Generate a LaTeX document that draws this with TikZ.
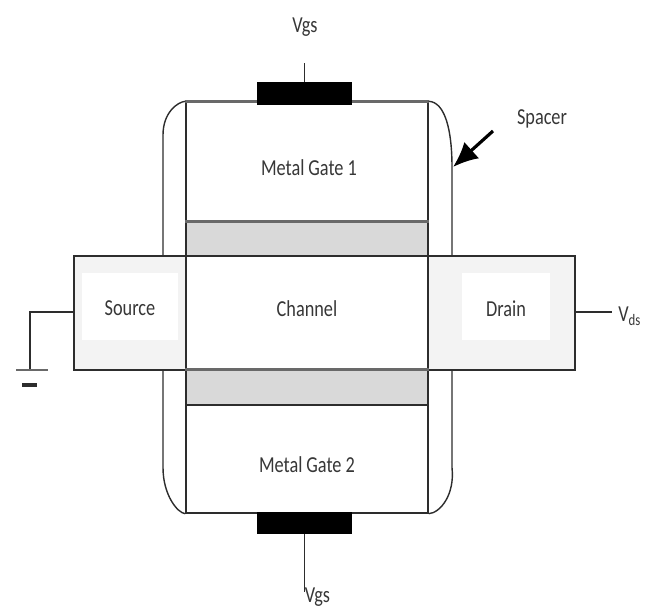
\documentclass[tikz,border=0pt]{standalone}
\usepackage{fontspec}
\setsansfont[FakeStretch=0.8]{Carlito}
\usepackage{xcolor}
\usetikzlibrary{arrows.meta}
\definecolor{spacergray}{RGB}{217, 217, 217}
\definecolor{contactgray}{RGB}{243, 243, 243}
\definecolor{linegray}{RGB}{45, 45, 45}
\definecolor{edgegray}{RGB}{105, 105, 105}
\definecolor{textgray}{RGB}{55, 55, 55}

\begin{document}
\begin{tikzpicture}[
    font=\sffamily\fontsize{13}{15}\selectfont,
    box/.style={draw=linegray, line width=0.8pt, rectangle, inner sep=0pt, fill=white},
    lbl/.style={text=textgray, inner sep=0pt},
    wire/.style={draw=linegray, line width=0.8pt},
    edge/.style={draw=edgegray, line width=1.6pt},
  ]
    \useasboundingbox (0,0) rectangle (13.04,12.2);

    % source and drain behind the channel
    \node[box, fill=contactgray, minimum width=2.24cm, minimum height=2.28cm] (source) at (2.6,5.94) {};
    \node[box, fill=contactgray, minimum width=2.94cm, minimum height=2.28cm] (drain) at (10.03,5.94) {};
    \node[fill=white, inner sep=0pt, minimum width=1.92cm, minimum height=1.34cm] (sourcein) at (2.6,6.07) {};
    \node[fill=white, inner sep=0pt, minimum width=1.76cm, minimum height=1.34cm] (drainin) at (10.12,6.07) {};

    \node[box, minimum width=4.84cm, minimum height=2.28cm] (channel) at (6.14,5.94) {};
    \node[box, minimum width=4.84cm, minimum height=2.4cm] (gatea) at (6.14,8.96) {};
    \node[box, fill=spacergray, minimum width=4.84cm, minimum height=0.68cm] (oxidea) at (6.14,7.42) {};
    \node[box, fill=spacergray, minimum width=4.84cm, minimum height=0.7cm] (oxideb) at (6.14,4.45) {};
    \node[box, minimum width=4.84cm, minimum height=2.16cm] (gateb) at (6.14,3.02) {};

    % thicker grey edges
    \draw[edge] (gatea.north west) -- (gatea.north east);
    \draw[edge] (oxidea.north west) -- (oxidea.north east);
    \draw[edge] (oxideb.north west) -- (oxideb.north east);

    \node[box, draw=black, fill=black, minimum width=1.86cm, minimum height=0.42cm] (pada) at (6.09,10.33) {};
    \node[box, draw=black, fill=black, minimum width=1.86cm, minimum height=0.4cm] (padb) at (6.09,1.74) {};

    % labels
    \node[lbl] (sourcetext) at (2.6,6.03) {Source};
    \node[lbl] (draintext) at (10.12,6.03) {Drain};
    \node[lbl] (channeltext) at (6.14,6.03) {Channel};
    \node[lbl] (gateatext) at (6.18,8.85) {Metal\,Gate 1};
    \node[lbl] (gatebtext) at (6.14,2.91) {Metal\,Gate 2};
    \node[lbl] (vgsa) at (6.1,11.66) {Vgs};
    \node[lbl, anchor=west] (vgsb) at (6.09,0.25) {Vgs};
    \node[lbl] (spacertext) at (10.84,9.82) {Spacer};
    \node[lbl, anchor=west] (vds) at (12.36,5.88) {V\textsubscript{ds}};

    % leads
    \coordinate (vgsaend) at (6.09,10.94);
    \coordinate (vgsbend) at (6.09,0.36);
    \coordinate (gndtop) at (0.6,5.96);
    \coordinate (gndbot) at (0.6,4.8);
    \coordinate (gndl) at (0.32,4.8);
    \coordinate (gndr) at (0.96,4.8);
    \coordinate (gndsl) at (0.44,4.5);
    \coordinate (gndsr) at (0.74,4.5);
    \coordinate (vdsend) at (12.24,5.96);
    \draw[wire] (pada.north) -- (vgsaend);
    \draw[wire] (padb.south) -- (vgsbend);
    \draw[wire] (drain.east |- vdsend) -- (vdsend);
    \draw[wire] (source.west |- gndtop) -- (gndtop) -- (gndbot);
    \draw[edge] (gndl) -- (gndr);
    \draw[wire, line width=1.8pt] (gndsl) -- (gndsr);

    % spacers
    \draw[wire] (3.26,7.08) -- (3.26,9.5) .. controls (3.26,9.95) and (3.55,10.16) .. (gatea.north west);
    \draw[wire] (3.26,4.8) -- (3.26,2.85) .. controls (3.26,2.3) and (3.55,1.94) .. (gateb.south west);
    \draw[wire] (9.04,7.08) -- (9.04,8.86) .. controls (9.04,9.6) and (8.9,10.16) .. (gatea.north east);
    \draw[wire] (9.04,4.8) -- (9.04,2.85) .. controls (9.1,2.3) and (8.8,1.94) .. (gateb.south east);

    % arrow at spacer
    \coordinate (arrowtail) at (9.86,9.58);
    \coordinate (arrowtip) at (9.06,8.86);
    \draw[-{Latex[length=0.5cm,width=0.44cm]}, line width=1.8pt, black] (arrowtail) -- (arrowtip);
  \end{tikzpicture}
\end{document}
